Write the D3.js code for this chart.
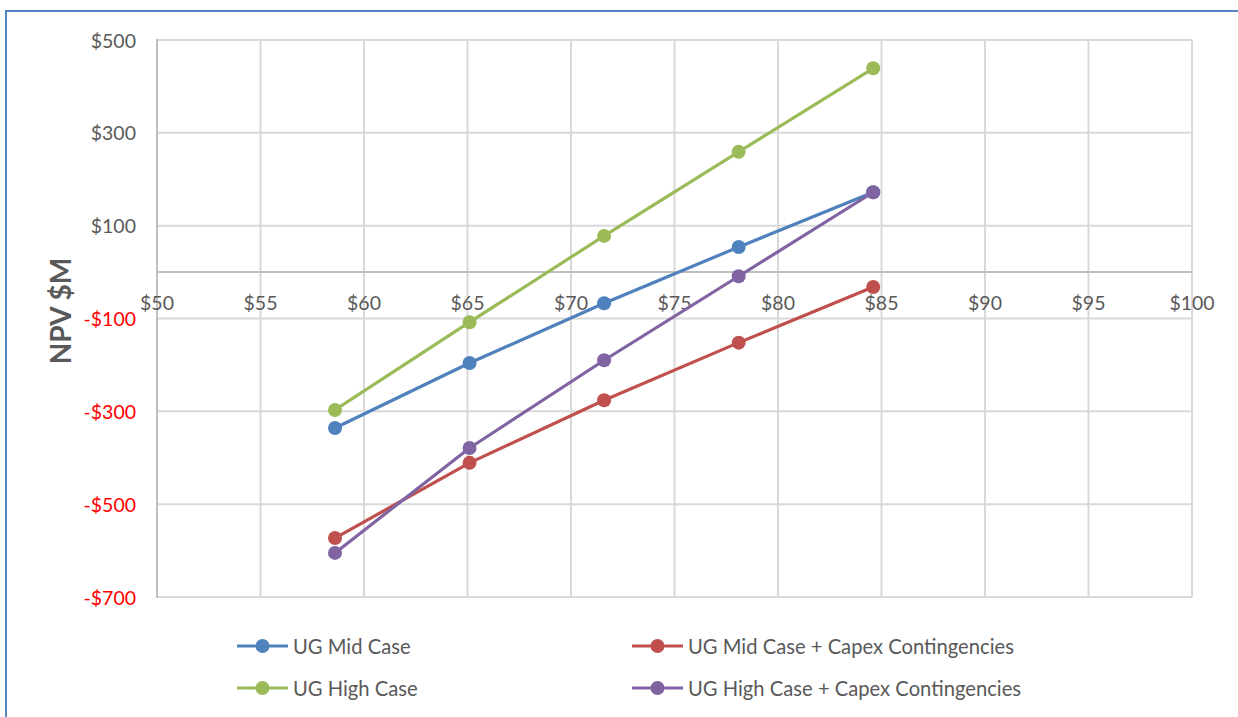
<!DOCTYPE html>
<html>
<head>
<meta charset="utf-8">
<script src="https://cdn.jsdelivr.net/npm/d3@7"></script>
<style>
  html, body { margin: 0; padding: 0; background: #fff; }
  svg { display: block; font-family: Lato, "Open Sans", sans-serif; }
</style>
</head>
<body>
<svg id="chart" width="1238" height="717"></svg>
<script>
// ---- data ----
const prices = [58.6, 65.1, 71.6, 78.1, 84.6];
const seriesNames = ["UG Mid Case", "UG Mid Case + Capex Contingencies", "UG High Case", "UG High Case + Capex Contingencies"];
const midCase = [-336, -196, -67, 54, 172];
const midCaseCapex = [-573, -411, -276, -152, -32];
const highCase = [-297, -108, 78, 259, 439];
const highCaseCapex = [-605, -379, -190, -9, 172];
const seriesColors = ["#4f81bd", "#c0504d", "#9bbb59", "#8064a2"];
const xTicks = [50, 55, 60, 65, 70, 75, 80, 85, 90, 95, 100];
const yTicks = [-700, -500, -300, -100, 100, 300, 500];
const yTitle = "NPV $M";

const seriesValues = [midCase, midCaseCapex, highCase, highCaseCapex];

const svg = d3.select("#chart");
const W = 1238, H = 717;

// frame
svg.append("path")
  .attr("d", `M6,${H + 5} L6,11 L${W + 5},11`)
  .attr("fill", "none").attr("stroke", "#5585c2").attr("stroke-width", 2);

const plot = { left: 157, right: 1192, top: 40, bottom: 597 };
const x = d3.scaleLinear().domain([50, 100]).range([plot.left, plot.right]);
const y = d3.scaleLinear().domain([-700, 500]).range([plot.bottom, plot.top]);

// gridlines
const grid = svg.append("g");
grid.selectAll("line.v").data(xTicks.slice(1)).join("line")
  .attr("x1", d => x(d)).attr("x2", d => x(d))
  .attr("y1", plot.top).attr("y2", plot.bottom)
  .attr("stroke", "#d9d9d9").attr("stroke-width", 2);
grid.selectAll("line.h").data(yTicks).join("line")
  .attr("x1", plot.left).attr("x2", plot.right)
  .attr("y1", d => y(d)).attr("y2", d => y(d))
  .attr("stroke", "#d9d9d9").attr("stroke-width", 2);

// axis lines
svg.append("line").attr("x1", x(50)).attr("x2", x(50))
  .attr("y1", plot.top - 1).attr("y2", plot.bottom + 1)
  .attr("stroke", "#bfbfbf").attr("stroke-width", 2);
svg.append("line").attr("x1", plot.left).attr("x2", plot.right)
  .attr("y1", y(0)).attr("y2", y(0))
  .attr("stroke", "#bfbfbf").attr("stroke-width", 2);

// y tick labels
svg.append("g").selectAll("text").data(yTicks).join("text")
  .attr("x", 136).attr("y", d => y(d))
  .attr("text-anchor", "end").attr("dominant-baseline", "central")
  .attr("font-size", 19.5)
  .attr("fill", d => d < 0 ? "#ff0000" : "#595959")
  .text(d => (d < 0 ? "-$" : "$") + Math.abs(d));

// x tick labels
svg.append("g").selectAll("text").data(xTicks).join("text")
  .attr("x", d => x(d)).attr("y", y(0) + 30)
  .attr("text-anchor", "middle").attr("dominant-baseline", "central")
  .attr("font-size", 19.5).attr("fill", "#595959")
  .text(d => "$" + d);

// y title
svg.append("text")
  .attr("transform", `translate(60,311) rotate(-90)`)
  .attr("text-anchor", "middle").attr("dominant-baseline", "central")
  .attr("font-size", 28).attr("font-weight", "bold").attr("fill", "#595959")
  .text(yTitle);

// series
const line = d3.line().x((d, i) => x(prices[i])).y(d => y(d));
seriesValues.forEach((vals, si) => {
  const g = svg.append("g");
  g.append("path").datum(vals).attr("d", line)
    .attr("fill", "none").attr("stroke", seriesColors[si])
    .attr("stroke-width", 3.2).attr("stroke-linejoin", "round");
  g.selectAll("circle").data(vals).join("circle")
    .attr("cx", (d, i) => x(prices[i])).attr("cy", d => y(d))
    .attr("r", 7).attr("fill", seriesColors[si]);
});

// legend
const legendPos = [[237, 646], [632, 646], [237, 688], [632, 688]];
seriesNames.forEach((name, si) => {
  const [lx, ly] = legendPos[si];
  const g = svg.append("g").attr("transform", `translate(${lx},${ly})`);
  g.append("line").attr("x1", 0).attr("x2", 51).attr("y1", 0).attr("y2", 0)
    .attr("stroke", seriesColors[si]).attr("stroke-width", 3.2);
  g.append("circle").attr("cx", 25.5).attr("cy", 0).attr("r", 7).attr("fill", seriesColors[si]);
  g.append("text").attr("x", 56).attr("y", 0).attr("dominant-baseline", "central")
    .attr("font-size", 20.2).attr("fill", "#595959").text(name);
});
</script>
</body>
</html>
